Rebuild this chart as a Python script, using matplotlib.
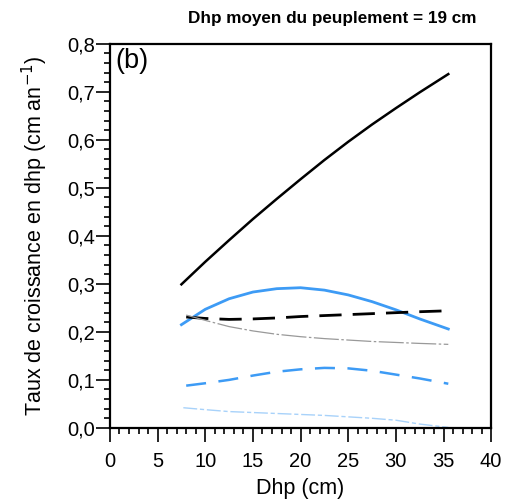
import matplotlib
matplotlib.use("Agg")
import matplotlib.pyplot as plt
from matplotlib.ticker import MultipleLocator, FuncFormatter

plt.rcParams["font.family"] = ["Liberation Sans", "DejaVu Sans"]

# Dhp (cm) et taux de croissance prédits (cm/an)
dhp = [7.5, 10, 12.5, 15, 17.5, 20, 22.5, 25, 27.5, 30, 32.5, 35.5]
noir_plein = [0.299, 0.346, 0.391, 0.435, 0.477, 0.518, 0.558, 0.596, 0.632, 0.666, 0.699, 0.737]
bleu_plein = [0.215, 0.247, 0.269, 0.283, 0.290, 0.292, 0.287, 0.277, 0.263, 0.246, 0.227, 0.206]

dhp_b = [8.0, 10, 12.5, 15, 17.5, 20, 22.5, 25, 27.5, 30, 32.5, 35.5]
noir_tirets = [0.231, 0.228, 0.226, 0.227, 0.229, 0.232, 0.234, 0.236, 0.238, 0.240, 0.242, 0.244]
gris_fin = [0.235, 0.224, 0.211, 0.202, 0.195, 0.190, 0.186, 0.183, 0.180, 0.178, 0.176, 0.174]
bleu_tirets = [0.088, 0.093, 0.100, 0.109, 0.117, 0.122, 0.125, 0.124, 0.119, 0.111, 0.103, 0.092]

dhp_c = [7.7, 10, 12.5, 15, 17.5, 20, 22.5, 25, 27.5, 30, 32.5, 35.5]
bleu_fin = [0.042, 0.038, 0.034, 0.032, 0.030, 0.028, 0.026, 0.023, 0.020, 0.016, 0.008, 0.001]

fig, ax = plt.subplots(figsize=(5.09, 5.04), dpi=100)
fig.subplots_adjust(left=0.216, right=0.965, bottom=0.151, top=0.913)

ax.plot(dhp, noir_plein, color="black", lw=1.8)
ax.plot(dhp, bleu_plein, color="#3d9bf5", lw=2.0)
ax.plot(dhp_b, noir_tirets, color="black", lw=2.0, dashes=(8, 4))
ax.plot(dhp_b, gris_fin, color="#999999", lw=0.9, dashes=(20, 2, 2, 2))
ax.plot(dhp_b, bleu_tirets, color="#3d9bf5", lw=1.8, dashes=(8, 5))
ax.plot(dhp_c, bleu_fin, color="#a8d2fa", lw=1.0, dashes=(10, 2, 3, 2))

ax.set_xlim(0, 40)
ax.set_ylim(0, 0.8)
ax.xaxis.set_major_locator(MultipleLocator(5))
ax.xaxis.set_minor_locator(MultipleLocator(1))
ax.yaxis.set_major_locator(MultipleLocator(0.1))
ax.yaxis.set_minor_locator(MultipleLocator(0.02))
ax.yaxis.set_major_formatter(FuncFormatter(lambda v, p: f"{v:.1f}".replace(".", ",")))
ax.tick_params(which="both", direction="out", labelsize=14.5, width=1.2)
ax.tick_params(which="major", length=10)
ax.tick_params(which="minor", length=4.5)
ax.tick_params(axis="x", which="major", pad=7.5)
ax.tick_params(axis="y", which="major", pad=1)
for s in ax.spines.values():
    s.set_linewidth(1.6)

ax.set_xlabel("Dhp (cm)", fontsize=15.5, labelpad=5)
ax.set_ylabel("Taux de croissance en dhp (cm an$^{-1}$)", fontsize=15.5, labelpad=12)
ax.set_title("Dhp moyen du peuplement = 19 cm", fontsize=12.3, fontweight="bold",
             pad=15, x=0.583)
ax.text(0.015, 0.99, "(b)", transform=ax.transAxes, fontsize=19.5, va="top", ha="left")

fig.savefig("out.png", dpi=100)
